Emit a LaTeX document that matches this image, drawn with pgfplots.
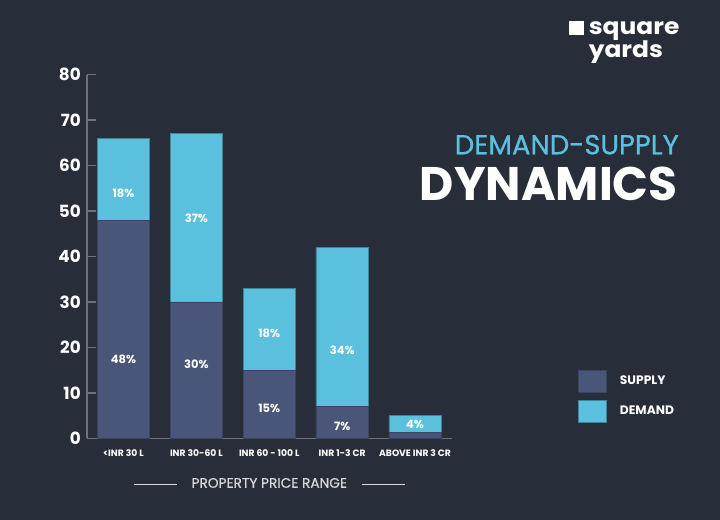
\documentclass[border=0pt]{standalone}
\usepackage{pgfplots}
\pgfplotsset{compat=1.18}
\usepackage{fontspec}
\setmainfont{Poppins}
\newfontfamily\popmed[FakeBold=0.6]{Poppins}
\newfontfamily\poplbl[FakeBold=0.35]{Poppins}
\newfontfamily\poplogo[FakeStretch=1.1]{Poppins}
\definecolor{bg}{HTML}{282E39}
\definecolor{supply}{HTML}{4A5679}
\definecolor{demand}{HTML}{5BC0DE}
\definecolor{axisgray}{HTML}{6E727B}
\definecolor{lgray}{HTML}{D8D9DC}
\tikzset{barlbl/.style={text=white, font=\bfseries\fontsize{8.6}{9}\selectfont, inner sep=0pt}}
\begin{document}
\begin{tikzpicture}[x=0.75pt,y=0.75pt]
\fill[bg] (0,0) rectangle (720,520);
% logo
\fill[white] (569.3,485) rectangle (584.3,499);
\node[anchor=base west, inner sep=0pt, text depth=0pt, text=white, font=\poplogo\bfseries\fontsize{17}{17}\selectfont] at (588.5,485) {square};
\node[anchor=base west, inner sep=0pt, text height=11pt, text=white, font=\poplogo\bfseries\fontsize{17}{17}\selectfont] at (588.5,462.6) {yards};
% title
\node[anchor=base east, inner sep=0pt, text=demand, font=\popmed\fontsize{20.6}{21}\selectfont] at (679,365.7) {DEMAND-SUPPLY};
\node[anchor=base east, inner sep=0pt, text=white, font=\bfseries\fontsize{35.3}{36}\selectfont] at (678,319) {DYNAMICS};
\begin{axis}[
  at={(65.25pt,61.28pt)}, anchor=south west,
  scale only axis, width=273.4pt, height=272.7pt,
  xmin=-0.5, xmax=4.5, ymin=0, ymax=80,
  ybar stacked, bar width=0.72,
  axis x line=bottom, axis y line=left,
  axis line style={draw=axisgray, line width=1pt, -},
  ytick={0,10,...,80},
  tick align=inside, major tick length=6.5pt,
  ytick style={draw=axisgray, line width=1pt},
  xtick={0,1,2,3,4}, xtick style={draw=none},
  xticklabels={{<INR 30 L},{INR 30-60 L},{INR 60 - 100 L},{INR 1-3 CR},{ABOVE INR 3 CR}},
  /pgf/number format/assume math mode=true,
  yticklabel style={inner sep=0pt, xshift=-4.5pt, text=white, font=\bfseries\fontsize{12.6}{13}\selectfont},
  xticklabel style={inner sep=0pt, yshift=-8pt, text=white, font=\bfseries\fontsize{6.9}{7}\selectfont},
  xlabel={\textcolor{lgray}{\rule[0.33ex]{32.25pt}{0.8pt}}\hspace{11pt}PROPERTY PRICE RANGE\hspace{11pt}\textcolor{lgray}{\rule[0.33ex]{32.25pt}{0.8pt}}},
  xlabel style={at={(axis description cs:0.5,0)}, anchor=center, yshift=-33.5pt, inner sep=0pt, text=lgray, font=\poplbl\fontsize{10.3}{11}\selectfont},
  legend style={at={(1.346,0.188)}, anchor=north west, draw=none, fill=none, inner sep=0pt, outer sep=0pt,
    text=white, font=\bfseries\fontsize{9.2}{9.5}\selectfont, row sep=5.4pt, column sep=10.2pt,
    nodes={inner sep=0pt}},
  legend cell align=left,
  legend image code/.code={\path[#1] (0pt,-8.35pt) rectangle (21pt,8.35pt);},
  after end axis/.code={
    \node[barlbl] at (axis cs:0,17.4) {48\%};
    \node[barlbl] at (axis cs:0,53.9) {18\%};
    \node[barlbl] at (axis cs:1,16.2) {30\%};
    \node[barlbl] at (axis cs:1,48.4) {37\%};
    \node[barlbl] at (axis cs:2,6.6) {15\%};
    \node[barlbl] at (axis cs:2,23.2) {18\%};
    \node[barlbl] at (axis cs:3,2.6) {7\%};
    \node[barlbl] at (axis cs:3,19.4) {34\%};
    \node[barlbl] at (axis cs:4,3.1) {4\%};
  },
]
\addplot[fill=supply, draw=supply!80!black, line width=0.5pt] coordinates {(0,48) (1,30) (2,15) (3,7) (4,1.3)};
\addplot[fill=demand, draw=demand!70!black, line width=0.5pt] coordinates {(0,18) (1,37) (2,18) (3,35) (4,3.7)};
\legend{SUPPLY,DEMAND}
\end{axis}
\end{tikzpicture}
\end{document}
